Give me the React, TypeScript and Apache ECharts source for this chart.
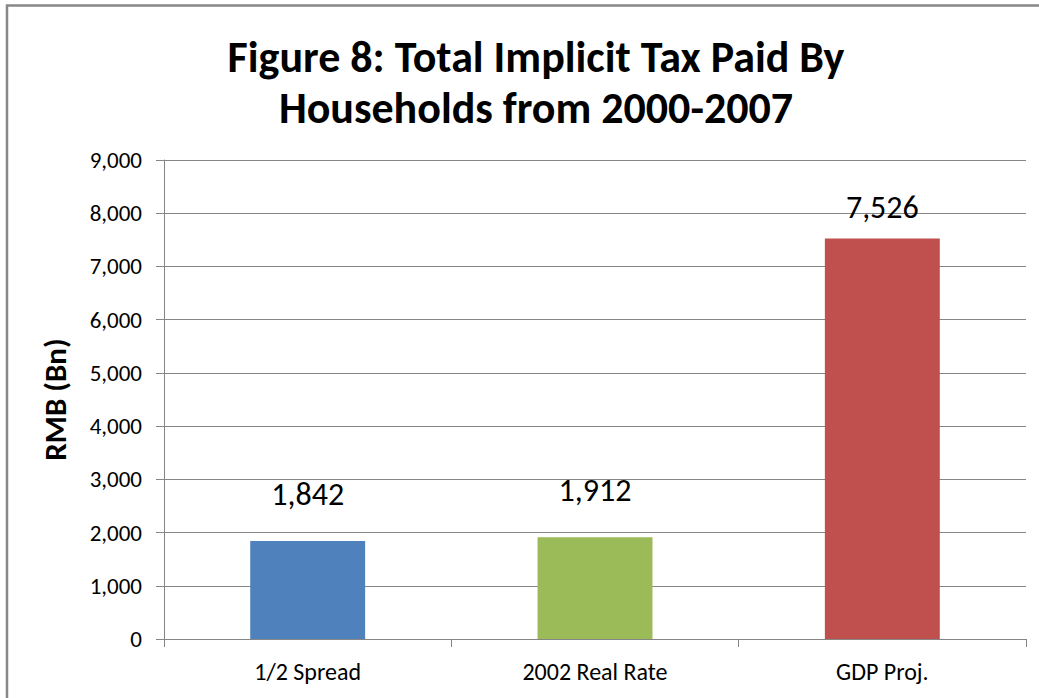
import React, { useEffect, useRef } from "react";
import * as echarts from "echarts";

const categories = ["1/2 Spread", "2002 Real Rate", "GDP Proj."];
const values = [1842, 1912, 7526];
const barColors = ["#4F81BD", "#9BBB59", "#C0504D"];
const titleText = "Figure 8: Total Implicit Tax Paid By\nHouseholds from 2000-2007";
const yAxisName = "RMB (Bn)";

const FONT = "Carlito, Lato, 'Open Sans', sans-serif";

export default function App() {
  const ref = useRef<HTMLDivElement>(null);
  useEffect(() => {
    if (!ref.current) return;
    const chart = echarts.init(ref.current, undefined, { renderer: "svg" });
    const labelDistances = [30, 31, 15];
    chart.setOption({
      animation: false,
      backgroundColor: "#ffffff",
      title: {
        text: titleText,
        left: 531,
        top: 26,
        textAlign: "center",
        textStyle: {
          fontFamily: FONT,
          fontWeight: "bold",
          fontSize: 44,
          lineHeight: 51,
          color: "#000000",
        },
      },
      graphic: [
        {
          type: "rect",
          shape: { x: 7, y: 5.5, width: 1200, height: 900 },
          style: { fill: "none", stroke: "#888888", lineWidth: 2.5 },
          silent: true,
        },
      ],
      grid: { left: 164, right: 13, top: 160, bottom: 59, containLabel: false },
      xAxis: {
        type: "category",
        data: categories,
        axisLine: { show: true, lineStyle: { color: "#868686", width: 1 } },
        axisTick: { show: true, length: 8, lineStyle: { color: "#868686" } },
        axisLabel: {
          fontFamily: FONT,
          fontSize: 24,
          color: "#000000",
          margin: 20,
        },
      },
      yAxis: {
        type: "value",
        min: 0,
        max: 9000,
        interval: 1000,
        name: yAxisName,
        nameLocation: "middle",
        nameGap: 94,
        nameRotate: 90,
        nameTextStyle: {
          fontFamily: FONT,
          fontWeight: "bold",
          fontSize: 31,
          color: "#000000",
        },
        axisLine: { show: true, lineStyle: { color: "#868686", width: 1 } },
        axisTick: { show: true, length: 8, lineStyle: { color: "#868686" } },
        splitLine: { show: true, lineStyle: { color: "#868686", width: 1 } },
        axisLabel: {
          fontFamily: FONT,
          fontSize: 23,
          color: "#000000",
          margin: 22,
          formatter: (v: number) => v.toLocaleString("en-US"),
        },
      },
      series: [
        {
          type: "bar",
          barWidth: "40%",
          data: values.map((v, i) => ({
            value: v,
            itemStyle: { color: barColors[i] },
            label: { distance: labelDistances[i] },
          })),
          label: {
            show: true,
            position: "top",
            fontFamily: FONT,
            fontSize: 32,
            color: "#000000",
            formatter: (p: any) => Number(p.value).toLocaleString("en-US"),
          },
        },
      ],
    });
    return () => chart.dispose();
  }, []);
  return (
    <div
      ref={ref}
      style={{ position: "fixed", left: 0, top: 0, width: 1039, height: 698 }}
    />
  );
}
